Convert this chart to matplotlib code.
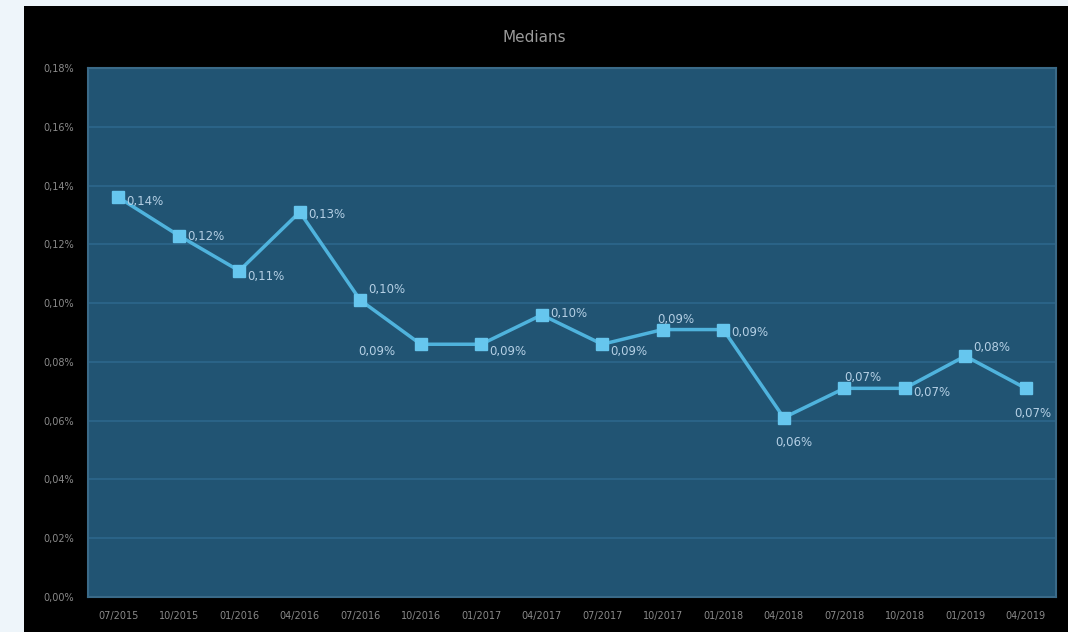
import matplotlib
matplotlib.use("Agg")
import matplotlib.pyplot as plt
from matplotlib.ticker import FuncFormatter

# Data (values in percent)
periods = ["07/2015", "10/2015", "01/2016", "04/2016", "07/2016", "10/2016",
           "01/2017", "04/2017", "07/2017", "10/2017", "01/2018", "04/2018",
           "07/2018", "10/2018", "01/2019", "04/2019"]
medians = [0.136, 0.123, 0.111, 0.131, 0.101, 0.086, 0.086, 0.096,
           0.086, 0.091, 0.091, 0.061, 0.071, 0.071, 0.082, 0.071]
yticks = [0.00, 0.02, 0.04, 0.06, 0.08, 0.10, 0.12, 0.14, 0.16, 0.18]

# label offsets (points) for each data label
label_offsets = [(6, -3), (6, -1), (6, -4), (6, -2), (6, 8), (-45, -5),
                 (6, -5), (6, 1), (6, -5), (-4, 7), (6, -2), (-6, -18),
                 (0, 8), (6, -3), (6, 6), (-8, -18)]

fig = plt.figure(figsize=(10.68, 6.32), dpi=100)
fig.patch.set_facecolor("#eef5fa")

# black chart background
bg = fig.add_axes([24 / 1068, 0, 1 - 24 / 1068, 626 / 632], zorder=-1)
bg.set_facecolor("black")
bg.set_xticks([])
bg.set_yticks([])
for s in bg.spines.values():
    s.set_visible(False)

ax = fig.add_axes([88 / 1068, 35 / 632, 968 / 1068, 529 / 632])
ax.set_facecolor("#215473")
for s in ax.spines.values():
    s.set_color("#3a6a88")
    s.set_linewidth(1.5)

x = list(range(len(periods)))
ax.plot(x, medians, color="#4fb3dd", linewidth=2.5, marker="s", markersize=8,
        markerfacecolor="#66c6ee", markeredgecolor="#66c6ee", zorder=3)

for i, v in enumerate(medians):
    lbl = f"{v:.2f}%".replace(".", ",")
    ax.annotate(lbl, (i, v), xytext=label_offsets[i], textcoords="offset points",
                color="#b4cfe4", fontsize=8.5, ha="left", va="center")

ax.set_ylim(0, 0.18)
ax.set_yticks(yticks)
ax.yaxis.set_major_formatter(FuncFormatter(lambda v, p: f"{v:.2f}%".replace(".", ",")))
ax.set_xlim(-0.5, len(periods) - 0.5)
ax.set_xticks(x)
ax.set_xticklabels(periods)
ax.tick_params(colors="#8a8a8a", labelsize=7, length=0)
ax.tick_params(axis="y", pad=10)
ax.tick_params(axis="x", pad=10)
ax.grid(axis="y", color="#2a6387", linewidth=1.5)
ax.set_axisbelow(True)

fig.text(0.5, 0.94, "Medians", color="#9a9a9a", fontsize=11, ha="center", va="center")

plt.savefig("out.png", dpi=100, facecolor=fig.get_facecolor())
